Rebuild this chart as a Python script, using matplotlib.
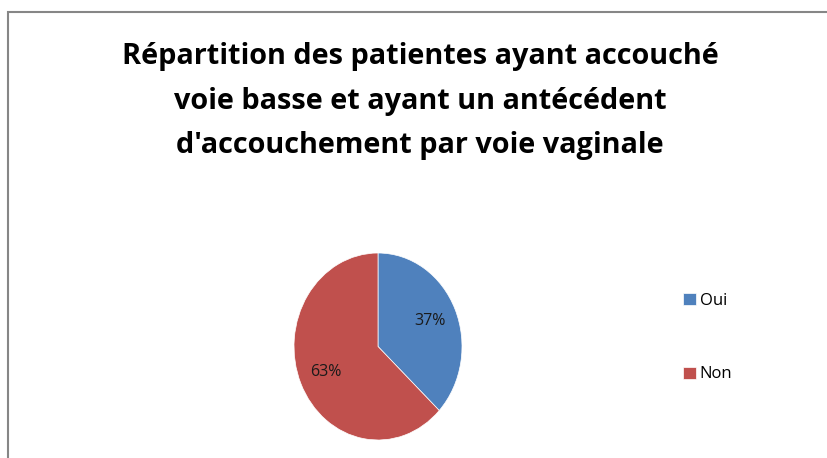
import matplotlib
matplotlib.use("Agg")
import matplotlib.pyplot as plt
from matplotlib.patches import Rectangle
from matplotlib import font_manager

categories = ["Oui", "Non"]
values = [37, 63]
colors = ["#4F81BD", "#C0504D"]
title = "Répartition des patientes ayant accouché\nvoie basse et ayant un antécédent\nd'accouchement par voie vaginale"

names = {f.name for f in font_manager.fontManager.ttflist}
fam = "Liberation Sans Narrow" if "Liberation Sans Narrow" in names else "Open Sans"
plt.rcParams['font.family'] = [fam, "DejaVu Sans"]

W, H = 827, 458
fig = plt.figure(figsize=(W / 100, H / 100), dpi=100)

# border
fig.patches.append(Rectangle((8 / W, -0.1), 1.2, (H - 12) / H + 0.1, transform=fig.transFigure,
                             fill=False, edgecolor="#868686", linewidth=1.5))

fig.text(420 / W, 1 - 101 / H, title, ha="center", va="center", fontsize=20.8,
         fontweight="bold", linespacing=1.72)

ax = fig.add_axes([294 / W, 18 / H, 168 / W, 187 / H])
wedges, texts, autotexts = ax.pie(values, colors=colors, startangle=90, counterclock=False,
                                  autopct="%1.0f%%", pctdistance=0.68,
                                  wedgeprops=dict(edgecolor="white", linewidth=0.5),
                                  textprops=dict(fontsize=11.5, color="#1a1a1a"))
ax.set_aspect("auto")
ax.set_xlim(-1, 1)
ax.set_ylim(-1, 1)
ax.axis("off")

leg = fig.legend(wedges, categories, loc="upper left", bbox_to_anchor=(668 / W, 1 - 278 / H),
                 frameon=False, fontsize=12, labelspacing=3.45, handlelength=0.75,
                 handleheight=0.75, handletextpad=0.25)

fig.savefig("out.png", dpi=100)
